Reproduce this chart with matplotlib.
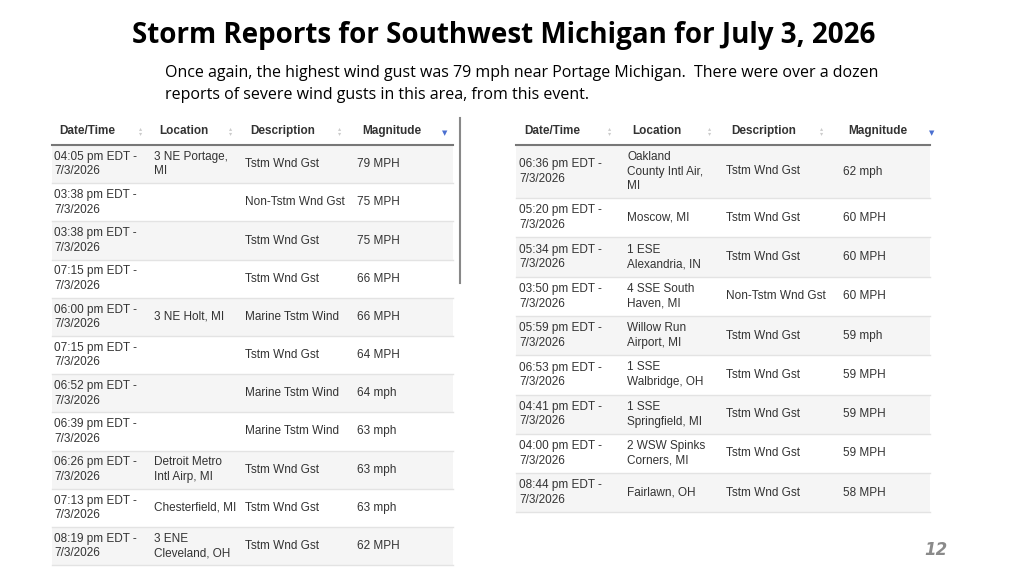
import matplotlib.pyplot as plt
from matplotlib.patches import Rectangle

headers = ["Date/Time", "Location", "Description", "Magnitude"]

left_times = ["04:05 pm EDT -", "03:38 pm EDT -", "03:38 pm EDT -", "07:15 pm EDT -", "06:00 pm EDT -",
              "07:15 pm EDT -", "06:52 pm EDT -", "06:39 pm EDT -", "06:26 pm EDT -", "07:13 pm EDT -",
              "08:19 pm EDT -"]
left_locs = ["3 NE Portage,\nMI", "", "", "", "3 NE Holt, MI", "", "", "", "Detroit Metro\nIntl Airp, MI",
             "Chesterfield, MI", "3 ENE\nCleveland, OH"]
left_desc = ["Tstm Wnd Gst", "Non-Tstm Wnd Gst", "Tstm Wnd Gst", "Tstm Wnd Gst", "Marine Tstm Wind",
             "Tstm Wnd Gst", "Marine Tstm Wind", "Marine Tstm Wind", "Tstm Wnd Gst", "Tstm Wnd Gst",
             "Tstm Wnd Gst"]
left_mag = ["79 MPH", "75 MPH", "75 MPH", "66 MPH", "66 MPH", "64 MPH", "64 mph", "63 mph", "63 mph",
            "63 mph", "62 MPH"]

right_times = ["06:36 pm EDT -", "05:20 pm EDT -", "05:34 pm EDT -", "03:50 pm EDT -", "05:59 pm EDT -",
               "06:53 pm EDT -", "04:41 pm EDT -", "04:00 pm EDT -", "08:44 pm EDT -"]
right_locs = ["Oakland\nCounty Intl Air,\nMI", "Moscow, MI", "1 ESE\nAlexandria, IN", "4 SSE South\nHaven, MI",
              "Willow Run\nAirport, MI", "1 SSE\nWalbridge, OH", "1 SSE\nSpringfield, MI",
              "2 WSW Spinks\nCorners, MI", "Fairlawn, OH"]
right_desc = ["Tstm Wnd Gst", "Tstm Wnd Gst", "Tstm Wnd Gst", "Non-Tstm Wnd Gst", "Tstm Wnd Gst",
              "Tstm Wnd Gst", "Tstm Wnd Gst", "Tstm Wnd Gst", "Tstm Wnd Gst"]
right_mag = ["62 mph", "60 MPH", "60 MPH", "60 MPH", "59 mph", "59 MPH", "59 MPH", "59 MPH", "58 MPH"]

date = "7/3/2026"

fig = plt.figure(figsize=(10.24, 5.76), dpi=100)
ax = fig.add_axes([0, 0, 1, 1])
ax.set_xlim(0, 1024)
ax.set_ylim(576, 0)
ax.axis("off")

ax.text(504, 36, "Storm Reports for Southwest Michigan for July 3, 2026", ha="center", va="center",
        fontsize=20, fontweight="bold", family="Open Sans")
ax.text(165, 84, "Once again, the highest wind gust was 79 mph near Portage Michigan.  There were over a dozen\n"
        "reports of severe wind gusts in this area, from this event.", ha="left", va="center",
        fontsize=11.5, family="Open Sans", linespacing=1.55)
ax.text(936, 550, "12", ha="center", va="center", fontsize=12, fontweight="bold", style="italic",
        color="#8a8a8a")

fnt = "Liberation Sans"
fs = 8.5
tc = "#333333"


def draw_table(x0, x1, cols, arrows, blue, top, base_h, times, locs, desc, mag):
    for j, hd in enumerate(headers):
        ax.text(cols[j] + 5, 131, hd, ha="left", va="center", fontsize=fs, fontweight="bold",
                family=fnt, color=tc)
    for a in arrows:
        ax.text(a, 131, "\u25b4\n\u25be", ha="center", va="center", fontsize=4.5, color="#cccccc",
                linespacing=0.8)
    ax.text(blue, 133, "\u25bc", ha="center", va="center", fontsize=5, color="#4a6fd0")
    ax.plot([x0, x1], [top, top], color="#777777", lw=1.5)
    y = top
    for i in range(len(times)):
        lines = max(2, locs[i].count("\n") + 1)
        h = base_h + 13.7 * (lines - 2)
        if i % 2 == 0:
            ax.add_patch(Rectangle((x0, y), x1 - x0, h, color="#f5f5f5", lw=0))
        ax.plot([x0, x1], [y + h, y + h], color="#e3e3e3", lw=1)
        yc = y + h / 2
        ax.text(cols[0], yc, times[i] + "\n" + date, ha="left", va="center", fontsize=fs, family=fnt,
                color=tc, linespacing=1.3)
        ax.text(cols[1], yc, locs[i], ha="left", va="center", fontsize=fs, family=fnt, color=tc,
                linespacing=1.3)
        ax.text(cols[2], yc, desc[i], ha="left", va="center", fontsize=fs, family=fnt, color=tc)
        ax.text(cols[3], yc, mag[i], ha="left", va="center", fontsize=fs, family=fnt, color=tc)
        y += h


draw_table(52, 453, [54, 154, 245, 357], [141, 231, 340], 445, 145, 38.2,
           left_times, left_locs, left_desc, left_mag)
draw_table(516, 930, [519, 627, 726, 843], [610, 710, 822], 932, 145, 39.3,
           right_times, right_locs, right_desc, right_mag)
ax.plot([460, 460], [118, 283], color="#888888", lw=1.5)

fig.savefig("out.png", dpi=100)
